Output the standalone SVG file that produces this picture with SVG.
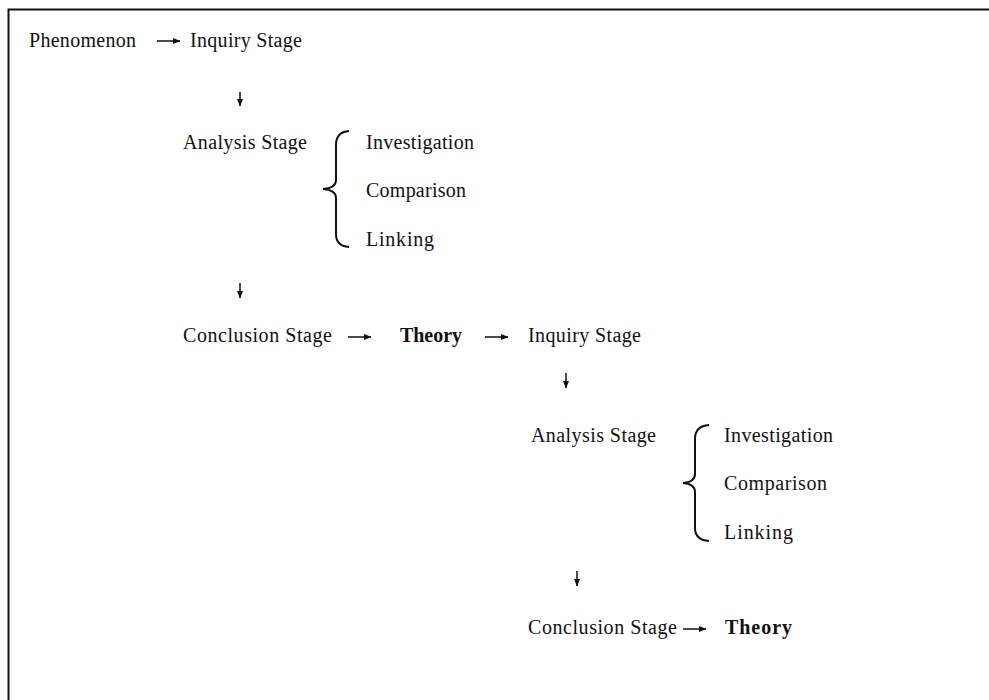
<svg xmlns="http://www.w3.org/2000/svg" width="989" height="700" viewBox="0 0 989 700">
<style>
text{font-family:"Liberation Serif","Times New Roman",serif;font-size:20px;fill:#111}
.b{font-weight:bold}
.c{stroke:#111;stroke-width:1.5;fill:none}
.br{stroke:#111;stroke-width:2;fill:none}
</style>
<defs>
<marker id="ah" markerWidth="8" markerHeight="7" refX="7" refY="3.5" orient="auto" markerUnits="userSpaceOnUse">
<path d="M0,0.5 L7.5,3.5 L0,6.5 Z" fill="#111"/>
</marker>
</defs>
<rect width="989" height="700" fill="#fff"/>
<path d="M8.5,700 V9.5 H989" stroke="#111" stroke-width="2" fill="none"/>

<g id="phenomenon"><text x="29" y="47" textLength="107" lengthAdjust="spacing">Phenomenon</text></g>
<g id="inquiry1"><text x="190" y="47" textLength="112" lengthAdjust="spacing">Inquiry Stage</text></g>
<g id="analysis1"><text x="183" y="149" textLength="124" lengthAdjust="spacing">Analysis Stage</text>
<path class="br" d="M349,131 Q336,132 336,145 V180 Q336,188 323,189 Q336,190 336,198 V234 Q336,246 349,247"/>
<text x="366" y="149" textLength="108" lengthAdjust="spacing">Investigation</text>
<text x="366" y="197" textLength="100" lengthAdjust="spacing">Comparison</text>
<text x="366" y="246" textLength="68" lengthAdjust="spacing">Linking</text></g>
<g id="conclusion1"><text x="183" y="342" textLength="149" lengthAdjust="spacing">Conclusion Stage</text></g>
<g id="theory1"><text class="b" x="400" y="342" textLength="62" lengthAdjust="spacing">Theory</text></g>
<g id="inquiry2"><text x="528" y="342" textLength="113" lengthAdjust="spacing">Inquiry Stage</text></g>
<g id="analysis2"><text x="531" y="442" textLength="125" lengthAdjust="spacing">Analysis Stage</text>
<path class="br" d="M709,425 Q695,426 695,439 V474 Q695,482 683,483 Q695,484 695,492 V528 Q695,540 709,541"/>
<text x="724" y="442" textLength="109" lengthAdjust="spacing">Investigation</text>
<text x="724" y="490" textLength="103" lengthAdjust="spacing">Comparison</text>
<text x="724" y="539" textLength="69" lengthAdjust="spacing">Linking</text></g>
<g id="conclusion2"><text x="528" y="634" textLength="149" lengthAdjust="spacing">Conclusion Stage</text></g>
<g id="theory2"><text class="b" x="725" y="634" textLength="67" lengthAdjust="spacing">Theory</text></g>

<g id="connectors">
<line class="c" x1="157" y1="41" x2="180" y2="41" marker-end="url(#ah)"/>
<line class="c" x1="240" y1="92" x2="240" y2="106" marker-end="url(#ah)"/>
<line class="c" x1="240" y1="283" x2="240" y2="298" marker-end="url(#ah)"/>
<line class="c" x1="348" y1="337" x2="371" y2="337" marker-end="url(#ah)"/>
<line class="c" x1="485" y1="337" x2="508" y2="337" marker-end="url(#ah)"/>
<line class="c" x1="566" y1="373" x2="566" y2="388" marker-end="url(#ah)"/>
<line class="c" x1="577" y1="571" x2="577" y2="586" marker-end="url(#ah)"/>
<line class="c" x1="683" y1="629" x2="706" y2="629" marker-end="url(#ah)"/>
</g>
</svg>
